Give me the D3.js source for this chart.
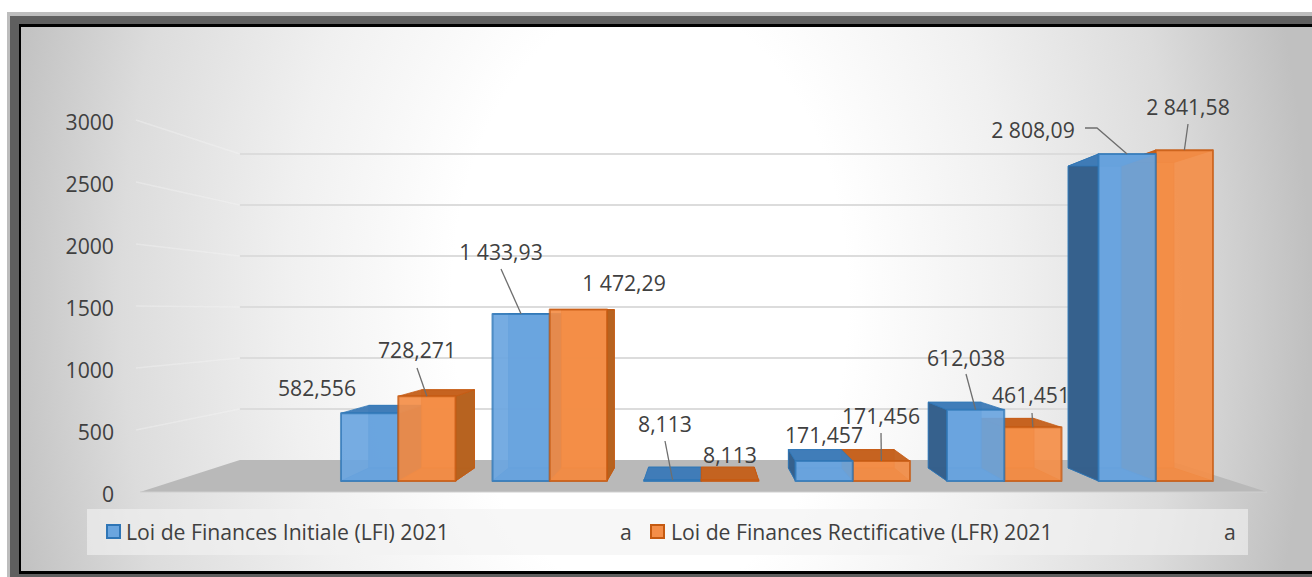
<!DOCTYPE html>
<html><head><meta charset="utf-8">
<script src="https://cdn.jsdelivr.net/npm/d3@7"></script>
<style>html,body{margin:0;padding:0;background:#fff;overflow:hidden}svg{display:block}text{font-family:"Open Sans","Noto Sans",sans-serif;fill:#404040}</style>
</head><body><svg id="c" width="1312" height="577"></svg>
<script>
// ---- data ----
const categories = ["A","B","C","D","E","F"];
const seriesNames = ["Loi de Finances Initiale (LFI) 2021","Loi de Finances Rectificative (LFR) 2021"];
const lfi = [582.556,1433.93,8.113,171.457,612.038,2808.09];
const lfr = [728.271,1472.29,8.113,171.456,461.451,2841.58];
const lfiLabels = ["582,556","1 433,93","8,113","171,457","612,038","2 808,09"];
const lfrLabels = ["728,271","1 472,29","8,113","171,456","461,451","2 841,58"];
const yTicks = [0,500,1000,1500,2000,2500,3000];
const legendFiller = "a";

// ---- layout (label placement, not data) ----
const lfiLabelPos = [[317,388,null],[501,252,[501,269]],[665,424,[665,441]],[824,435,null],[966,358,[966,374]],[1033,130,[1085,128,1097,128]]];
const lfrLabelPos = [[417,350,[417,368]],[624,283,null],[730,455,null],[881,416,[881,433]],[1031,395,[1032,413]],[1188,107,[1188,124]]];
const W=1312,H=577,FS=21.2;
const vp={x:703,y:311.6};                 // vanishing point
const sBack=0.8226,sBarFront=0.939,sBarBack=0.867;
const proj=(X,Y,s)=>[vp.x+(X-vp.x)*s, vp.y+(Y-vp.y)*s];

const svg=d3.select("#c");
const defs=svg.append("defs");
const g=defs.append("radialGradient").attr("id","bg").attr("gradientUnits","userSpaceOnUse")
  .attr("cx",0).attr("cy",0).attr("r",1)
  .attr("gradientTransform",`translate(650,300) scale(660,1000)`);
[[0,"#ffffff"],[0.3,"#ffffff"],[0.55,"#f0f0f0"],[0.8,"#dcdcdc"],[1,"#c0c0c0"]].forEach(([o,c])=>g.append("stop").attr("offset",o).attr("stop-color",c));

// frame
svg.append("rect").attr("x",7).attr("y",12).attr("width",W-7).attr("height",H-12).attr("fill","#bdbdbd");
svg.append("rect").attr("x",10).attr("y",16).attr("width",W-10).attr("height",H-16).attr("fill","#5f5f5f");
svg.append("rect").attr("x",19).attr("y",24).attr("width",W-19).attr("height",574-24).attr("fill","#000");
svg.append("rect").attr("x",21).attr("y",27).attr("width",W-21).attr("height",571-27).attr("fill","url(#bg)");

// scales on the front plane of the box
const y=d3.scaleLinear().domain([0,3000]).range([492,120]);
const unX=sx=>vp.x+(sx-vp.x)/sBarFront;
const x0=d3.scaleBand().domain(categories).range([unX(322.5),unX(1231.5)]).paddingInner(0.244).paddingOuter(0.122);
const x1=d3.scaleBand().domain([0,1]).range([0,x0.bandwidth()]);
const boxL=140,boxR=1267;

// floor
const floorPts=[[boxL,y(0)],[boxR,y(0)],proj(boxR,y(0),sBack),proj(boxL,y(0),sBack)];
svg.append("polygon").attr("points",floorPts.join(" ")).attr("fill","#b9b9b9");
svg.append("line").attr("x1",boxL).attr("x2",boxR).attr("y1",y(0)).attr("y2",y(0)).attr("stroke","#cfcfcf").attr("stroke-width",1);

// gridlines: back wall + faint left wall
const grid=svg.append("g");
yTicks.forEach(v=>{
  if(v===0) return;
  const a=proj(boxL,y(v),sBack), b=proj(boxR,y(v),sBack);
  grid.append("line").attr("x1",a[0]).attr("y1",a[1]).attr("x2",b[0]).attr("y2",b[1]).attr("stroke","#dcdcdc").attr("stroke-width",2);
  grid.append("line").attr("x1",boxL-4).attr("y1",y(v)).attr("x2",a[0]).attr("y2",a[1]).attr("stroke","#f4f4f4").attr("stroke-width",1.6).attr("stroke-opacity",.38);
});

// y labels
svg.append("g").selectAll("text").data(yTicks).join("text")
  .attr("x",114).attr("y",d=>y(d)+2.5).attr("dy","0.36em").attr("text-anchor","end").attr("font-size",FS).text(d=>d);

// bars
const palette=[
 {front:"#6aa5df",edge:"#2e75b6",top:"#3f7cb8",side:"#355f8a",back:"#5b95cf"},
 {front:"#f48e48",edge:"#c55a11",top:"#c4621f",side:"#b5621f",back:"#e57f35"}];
const bars=svg.append("g");
function bar(cat,si,val){
  const xl=x0(cat)+x1(si), xr=xl+x1.bandwidth(), Yb=y(0), Yt=y(val), c=palette[si];
  const F=(X,Y)=>proj(X,Y,sBarFront), B=(X,Y)=>proj(X,Y,sBarBack);
  const g=bars.append("g").attr("stroke-linejoin","round");
  const poly=(pts,fill,op,sw)=>g.append("polygon").attr("points",pts.join(" ")).attr("fill",fill).attr("fill-opacity",op).attr("stroke",c.edge).attr("stroke-width",sw).attr("stroke-opacity",.75);
  poly([B(xl,Yb),B(xr,Yb),B(xr,Yt),B(xl,Yt)],c.back,.9,1);     // back
  poly([F(xl,Yb),F(xr,Yb),B(xr,Yb),B(xl,Yb)],c.top,.75,1);     // bottom
  const sideX = F(xl,0)[0]>vp.x ? xl : xr;
  poly([F(sideX,Yb),B(sideX,Yb),B(sideX,Yt),F(sideX,Yt)],c.side,.97,1); // visible side
  poly([F(xl,Yt),F(xr,Yt),B(xr,Yt),B(xl,Yt)],c.top,.97,1);      // top
  poly([F(xl,Yb),F(xr,Yb),F(xr,Yt),F(xl,Yt)],c.front,val<20?0.0:.92,2); // front
  return F((xl+xr)/2,Yt);
}
const anchors=[[],[]];
categories.forEach((cat,i)=>{
  // paint the pair from the vanishing point outward so the nearer bar hides its neighbour's side
  const order = x0(cat) > unX(vp.x+60) ? [1,0] : [0,1];
  order.forEach(si=>{ anchors[si][i]=bar(cat,si,si===0?lfi[i]:lfr[i]); });
});

// leaders + labels
const ann=svg.append("g");
[[lfiLabels,lfiLabelPos,0],[lfrLabels,lfrLabelPos,1]].forEach(([labs,pos,si])=>{
  labs.forEach((t,i)=>{
    const [lx,ly,lead]=pos[i];
    if(lead){
      const pts=[];for(let k=0;k<lead.length;k+=2)pts.push([lead[k],lead[k+1]]);
      pts.push(anchors[si][i]);
      ann.append("polyline").attr("points",pts.join(" ")).attr("fill","none").attr("stroke","#6e6e6e").attr("stroke-width",1.3);
    }
    ann.append("text").attr("x",lx).attr("y",ly).attr("dy","0.36em").attr("text-anchor","middle").attr("font-size",FS).text(t);
  });
});

// legend
svg.append("rect").attr("x",87).attr("y",509).attr("width",1161).attr("height",46).attr("fill","#f2f2f2").attr("fill-opacity",.62);
const leg=[{sw:107,tx:126,a:626,c:palette[0],n:seriesNames[0]},{sw:651,tx:671,a:1230,c:palette[1],n:seriesNames[1]}];
leg.forEach(l=>{
  svg.append("rect").attr("x",l.sw).attr("y",525).attr("width",13).attr("height",13).attr("fill",l.c.front).attr("stroke",l.c.edge).attr("stroke-width",2);
  svg.append("text").attr("x",l.tx).attr("y",532).attr("dy","0.36em").attr("font-size",FS).text(l.n);
  svg.append("text").attr("x",l.a).attr("y",532).attr("dy","0.36em").attr("text-anchor","middle").attr("font-size",FS).text(legendFiller);
});
</script></body></html>
